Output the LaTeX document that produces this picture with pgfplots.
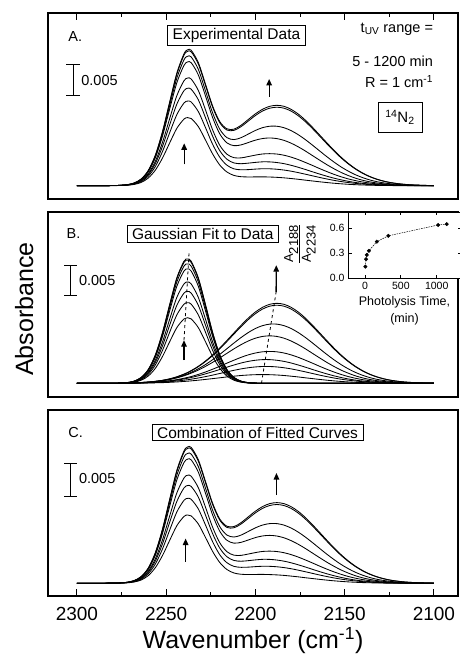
\documentclass[border=0pt]{standalone}
\usepackage{fontspec}
\setmainfont{Liberation Sans}
\usepackage{pgfplots}
\usepackage{pgfplotstable}
\pgfplotsset{compat=1.18}
\usetikzlibrary{arrows.meta}

% Gaussian band near 2238 cm^-1 (panel B), units of 0.001 absorbance
\pgfplotstableread{
x a1 a2 a3 a4 a5 a6 a7 a8
2300 0 0 0 0 0 0 0 0
2280 0.01 0.01 0.01 0.01 0.01 0.01 0.01 0.01
2276 0.02 0.02 0.02 0.02 0.03 0.03 0.03 0.03
2272 0.06 0.07 0.08 0.09 0.10 0.10 0.10 0.11
2268 0.18 0.22 0.25 0.27 0.31 0.32 0.33 0.34
2264 0.49 0.60 0.69 0.76 0.85 0.89 0.92 0.93
2260 1.17 1.44 1.64 1.80 2.04 2.13 2.19 2.22
2256 2.42 2.97 3.38 3.73 4.21 4.39 4.53 4.58
2252 4.32 5.30 6.04 6.66 7.52 7.85 8.10 8.18
2248 6.67 8.20 9.34 10.29 11.63 12.14 12.52 12.64
2244 8.92 10.96 12.49 13.76 15.54 16.22 16.73 16.90
2240 10.31 12.67 14.44 15.91 17.97 18.76 19.35 19.54
2238 10.50 12.90 14.70 16.20 18.30 19.10 19.70 19.90
2236 10.31 12.67 14.44 15.91 17.97 18.76 19.35 19.54
2232 8.92 10.96 12.49 13.76 15.54 16.22 16.73 16.90
2228 6.67 8.20 9.34 10.29 11.63 12.14 12.52 12.64
2224 4.32 5.30 6.04 6.66 7.52 7.85 8.10 8.18
2220 2.42 2.97 3.38 3.73 4.21 4.39 4.53 4.58
2216 1.17 1.44 1.64 1.80 2.04 2.13 2.19 2.22
2212 0.49 0.60 0.69 0.76 0.85 0.89 0.92 0.93
2208 0.18 0.22 0.25 0.27 0.31 0.32 0.33 0.34
2204 0.06 0.07 0.08 0.09 0.10 0.10 0.10 0.11
2200 0.02 0.02 0.02 0.02 0.03 0.03 0.03 0.03
2196 0.01 0.01 0.01 0.01 0.01 0.01 0.01 0.01
2180 0 0 0 0 0 0 0 0
2100 0 0 0 0 0 0 0 0
}\tabGa

% Gaussian band near 2190 cm^-1 (panel B)
\pgfplotstableread{
x b1 b2 b3 b4 b5 b6 b7 b8
2300 0 0 0 0 0 0 0 0
2280 0.00 0.01 0.01 0.01 0.01 0.01 0.01 0.01
2276 0.01 0.01 0.02 0.02 0.03 0.03 0.03 0.03
2272 0.01 0.02 0.03 0.03 0.05 0.04 0.04 0.04
2268 0.02 0.03 0.05 0.05 0.07 0.07 0.08 0.08
2264 0.03 0.05 0.08 0.08 0.12 0.12 0.12 0.13
2260 0.05 0.08 0.12 0.13 0.19 0.19 0.20 0.20
2256 0.08 0.12 0.18 0.19 0.29 0.29 0.31 0.32
2252 0.11 0.18 0.26 0.29 0.43 0.44 0.47 0.48
2248 0.16 0.26 0.37 0.42 0.62 0.64 0.70 0.72
2244 0.22 0.37 0.51 0.59 0.87 0.92 1.02 1.04
2240 0.30 0.50 0.70 0.81 1.20 1.29 1.44 1.47
2238 0.34 0.57 0.81 0.94 1.40 1.50 1.69 1.73
2236 0.39 0.66 0.93 1.08 1.62 1.75 1.98 2.03
2232 0.50 0.85 1.20 1.42 2.11 2.32 2.66 2.72
2228 0.62 1.07 1.51 1.81 2.70 2.99 3.48 3.56
2224 0.75 1.31 1.85 2.25 3.35 3.77 4.43 4.54
2220 0.88 1.57 2.21 2.72 4.06 4.62 5.51 5.64
2216 1.02 1.83 2.58 3.22 4.79 5.53 6.68 6.84
2212 1.14 2.08 2.93 3.70 5.52 6.45 7.89 8.07
2208 1.25 2.31 3.25 4.16 6.19 7.33 9.08 9.29
2204 1.33 2.49 3.51 4.55 6.77 8.12 10.19 10.43
2200 1.38 2.62 3.69 4.85 7.22 8.77 11.14 11.41
2196 1.40 2.69 3.79 5.04 7.50 9.23 11.88 12.16
2192 1.38 2.69 3.79 5.10 7.60 9.47 12.34 12.64
2188 1.33 2.62 3.69 5.04 7.50 9.47 12.50 12.80
2184 1.25 2.49 3.51 4.85 7.22 9.23 12.34 12.64
2180 1.14 2.31 3.25 4.55 6.77 8.77 11.88 12.16
2176 1.02 2.08 2.93 4.16 6.19 8.12 11.14 11.41
2172 0.88 1.83 2.58 3.70 5.52 7.33 10.19 10.43
2168 0.75 1.57 2.21 3.22 4.79 6.45 9.08 9.29
2164 0.62 1.31 1.85 2.72 4.06 5.53 7.89 8.07
2160 0.50 1.07 1.51 2.25 3.35 4.62 6.68 6.84
2156 0.39 0.85 1.20 1.81 2.70 3.77 5.51 5.64
2152 0.30 0.66 0.93 1.42 2.11 2.99 4.43 4.54
2148 0.22 0.50 0.70 1.08 1.62 2.32 3.48 3.56
2144 0.16 0.37 0.51 0.81 1.20 1.75 2.66 2.72
2140 0.11 0.26 0.37 0.59 0.87 1.29 1.98 2.03
2136 0.08 0.18 0.26 0.42 0.62 0.92 1.44 1.47
2132 0.05 0.12 0.18 0.29 0.43 0.64 1.02 1.04
2128 0.03 0.08 0.12 0.19 0.29 0.44 0.70 0.72
2124 0.02 0.05 0.08 0.13 0.19 0.29 0.47 0.48
2120 0.01 0.03 0.05 0.08 0.12 0.19 0.31 0.32
2116 0.01 0.02 0.03 0.05 0.07 0.12 0.20 0.20
2112 0.00 0.01 0.02 0.03 0.05 0.07 0.12 0.13
2108 0.00 0.01 0.01 0.02 0.03 0.04 0.08 0.08
2104 0.00 0.00 0.01 0.01 0.02 0.03 0.04 0.04
2100 0.00 0.00 0.00 0.01 0.01 0.01 0.03 0.03
}\tabGb

% Spectra (panels A and C)
\pgfplotstableread{
x s1 s2 s3 s4 s5 s6 s7 s8
2300 0 0 0 0 0 0 0 0
2280 0.01 0.02 0.02 0.02 0.02 0.02 0.02 0.02
2276 0.03 0.03 0.04 0.04 0.06 0.06 0.06 0.06
2272 0.07 0.09 0.11 0.12 0.15 0.14 0.14 0.15
2268 0.20 0.25 0.30 0.32 0.38 0.39 0.41 0.42
2264 0.52 0.65 0.77 0.84 0.97 1.01 1.04 1.06
2260 1.22 1.52 1.76 1.93 2.23 2.32 2.39 2.42
2256 2.50 3.09 3.56 3.92 4.50 4.68 4.84 4.90
2252 4.43 5.48 6.30 6.95 7.95 8.29 8.57 8.66
2248 6.83 8.46 9.71 10.71 12.25 12.78 13.22 13.36
2244 9.14 11.33 13.00 14.35 16.41 17.14 17.75 17.94
2240 10.61 13.17 15.14 16.72 19.17 20.05 20.79 21.01
2238 10.84 13.47 15.51 17.14 19.70 20.60 21.39 21.63
2236 10.70 13.33 15.37 16.99 19.59 20.51 21.33 21.57
2232 9.42 11.81 13.69 15.18 17.65 18.54 19.39 19.62
2228 7.29 9.27 10.85 12.10 14.33 15.13 16.00 16.20
2224 5.07 6.61 7.89 8.91 10.87 11.62 12.53 12.72
2220 3.30 4.54 5.59 6.45 8.27 9.01 10.04 10.22
2216 2.19 3.27 4.22 5.02 6.83 7.66 8.87 9.06
2212 1.63 2.68 3.62 4.46 6.37 7.34 8.81 9.00
2208 1.43 2.53 3.50 4.43 6.50 7.65 9.41 9.63
2204 1.39 2.56 3.59 4.64 6.87 8.22 10.29 10.54
2200 1.40 2.64 3.71 4.87 7.25 8.80 11.17 11.44
2196 1.41 2.70 3.80 5.05 7.51 9.24 11.89 12.17
2192 1.38 2.69 3.79 5.10 7.60 9.47 12.34 12.64
2188 1.33 2.62 3.69 5.04 7.50 9.47 12.50 12.80
2184 1.25 2.49 3.51 4.85 7.22 9.23 12.34 12.64
2180 1.14 2.31 3.25 4.55 6.77 8.77 11.88 12.16
2176 1.02 2.08 2.93 4.16 6.19 8.12 11.14 11.41
2172 0.88 1.83 2.58 3.70 5.52 7.33 10.19 10.43
2168 0.75 1.57 2.21 3.22 4.79 6.45 9.08 9.29
2164 0.62 1.31 1.85 2.72 4.06 5.53 7.89 8.07
2160 0.50 1.07 1.51 2.25 3.35 4.62 6.68 6.84
2156 0.39 0.85 1.20 1.81 2.70 3.77 5.51 5.64
2152 0.30 0.66 0.93 1.42 2.11 2.99 4.43 4.54
2148 0.22 0.50 0.70 1.08 1.62 2.32 3.48 3.56
2144 0.16 0.37 0.51 0.81 1.20 1.75 2.66 2.72
2140 0.11 0.26 0.37 0.59 0.87 1.29 1.98 2.03
2136 0.08 0.18 0.26 0.42 0.62 0.92 1.44 1.47
2132 0.05 0.12 0.18 0.29 0.43 0.64 1.02 1.04
2128 0.03 0.08 0.12 0.19 0.29 0.44 0.70 0.72
2124 0.02 0.05 0.08 0.13 0.19 0.29 0.47 0.48
2120 0.01 0.03 0.05 0.08 0.12 0.19 0.31 0.32
2116 0.01 0.02 0.03 0.05 0.07 0.12 0.20 0.20
2112 0.00 0.01 0.02 0.03 0.05 0.07 0.12 0.13
2108 0.00 0.01 0.01 0.02 0.03 0.04 0.08 0.08
2104 0.00 0.00 0.01 0.01 0.02 0.03 0.04 0.04
2100 0.00 0.00 0.00 0.01 0.01 0.01 0.03 0.03
}\tabS

\pgfplotsset{
  /pgf/number format/1000 sep={},
  /pgf/number format/assume math mode=true,
  panel/.style={
    scale only axis, width=410pt,
    xmin=2086.5, xmax=2316.2, x dir=reverse,
    ytick=\empty,
    xtick={2100,2150,2200,2250,2300},
    minor xtick={2125,2175,2225,2275},
    tick align=inside,
    major tick length=7pt, minor tick length=4pt,
    axis line style={line width=1.2pt},
    tick style={black, line width=0.9pt},
  },
  curve/.style={black, line width=0.85pt, smooth, no marks},
}
\tikzset{
  tbox/.style={draw, line width=0.8pt, fill=white, inner xsep=5pt, inner ysep=2.5pt,
    font=\fontsize{15.5}{18}\selectfont},
  lbl/.style={font=\fontsize{14.5}{17}\selectfont},
  arr/.style={line width=1.3pt, -{Triangle[length=6.5pt,width=5.5pt]}},
  sbar/.style={line width=0.9pt},
}

\begin{document}
\begin{tikzpicture}
\useasboundingbox (0pt,0pt) rectangle (459pt,654pt);

% ---------- Panel A ----------
\begin{axis}[panel, at={(48pt,641pt)}, anchor=north west, height=186pt,
  ymin=-2.12, ymax=27.5, xtick pos=right, xticklabels={}]
\pgfplotsinvokeforeach{1,...,8}{\addplot[curve] table[x=x,y=s#1]{\tabS};}
\node[lbl, anchor=west] at (axis cs:2306.7,23.7) {A.};
\node[tbox] at (axis cs:2210.6,23.9) {Experimental Data};
\draw[sbar] (axis cs:2305.9,14.3) -- (axis cs:2298.5,14.3)
  (axis cs:2302.2,14.3) -- (axis cs:2302.2,19.3)
  (axis cs:2305.9,19.3) -- (axis cs:2298.5,19.3);
\node[lbl, anchor=west, inner sep=0pt] at (axis cs:2297.6,16.8) {0.005};
\draw[arr] (axis cs:2239.9,3.4) -- (axis cs:2239.9,6.75);
\draw[arr] (axis cs:2192.3,14.2) -- (axis cs:2192.3,17.0);
\node[lbl, anchor=base east, inner sep=0pt] at (axis cs:2100.4,24.4) {t\textsubscript{UV} range =};
\node[lbl, anchor=base east, inner sep=0pt] at (axis cs:2100.4,18.9) {5 - 1200 min};
\node[lbl, anchor=base east, inner sep=0pt] at (axis cs:2100.4,15.6) {R = 1 cm\textsuperscript{-1}};
\node[draw, line width=0.8pt, minimum width=44pt, minimum height=30pt, inner sep=1pt,
  font=\fontsize{15}{18}\selectfont] at (axis cs:2119,10.9) {\textsuperscript{14}N\textsubscript{2}};
\end{axis}

% ---------- Panel B ----------
\begin{axis}[panel, at={(48pt,442pt)}, anchor=north west, height=185pt,
  ymin=-2.19, ymax=27.41, xtick=\empty, minor xtick={}]
\pgfplotsinvokeforeach{1,...,8}{\addplot[curve] table[x=x,y=a#1]{\tabGa};}
\pgfplotsinvokeforeach{1,...,8}{\addplot[curve] table[x=x,y=b#1]{\tabGb};}
\node[lbl, anchor=west] at (axis cs:2307.7,24.0) {B.};
\node[tbox] at (axis cs:2229.5,23.9) {Gaussian Fit to Data};
\draw[sbar] (axis cs:2307.1,14.0) -- (axis cs:2299.7,14.0)
  (axis cs:2303.4,14.0) -- (axis cs:2303.4,18.9)
  (axis cs:2307.1,18.9) -- (axis cs:2299.7,18.9);
\node[lbl, anchor=west, inner sep=0pt] at (axis cs:2298.9,16.5) {0.005};
\draw[dashed, line width=0.8pt] (axis cs:2240,6.9) -- (axis cs:2237.2,20.8);
\draw[arr] (axis cs:2240,3.7) -- (axis cs:2240,6.9);
\draw[dashed, line width=0.8pt] (axis cs:2196.6,0.0) -- (axis cs:2188.4,14.6);
\draw[arr] (axis cs:2188.4,14.6) -- (axis cs:2188.3,18.9);
\end{axis}

% ---------- Inset ----------
\begin{axis}[at={(348pt,442pt)}, anchor=north west, scale only axis,
  width=113pt, height=66.3pt,
  xmin=-237, xmax=1339, ymin=0, ymax=0.796,
  xtick={0,500,1000}, ytick={0,0.3,0.6},
  tick align=inside, tick pos=both, major tick length=3.5pt,
  tick style={black, line width=0.7pt},
  axis line style={line width=0.9pt},
  axis background/.style={fill=white},
  ticklabel style={font=\fontsize{10.5}{12}\selectfont},
  yticklabel style={/pgf/number format/.cd, fixed, fixed zerofill, precision=1},
  xlabel={Photolysis Time,\\(min)},
  xlabel style={align=center, font=\fontsize{12.5}{16.5}\selectfont,
    at={(axis description cs:0.5,0)}, anchor=north, yshift=-15pt},
  ylabel={$\displaystyle\frac{\textrm{A}_{\textrm{2188}}}{\textrm{A}_{\textrm{2234}}}$},
  ylabel style={font=\fontsize{13}{15}\selectfont,
    at={(axis description cs:-0.425,0.52)}, anchor=center},
]
\addplot[black, line width=0.5pt, dash pattern=on 1.5pt off 1pt,
  mark=*, mark size=1.7pt, mark options={solid}]
  coordinates {(5,0.14) (15,0.23) (25,0.28) (55,0.33) (165,0.44) (325,0.51) (1020,0.64) (1140,0.65)};
\end{axis}

% ---------- Panel C ----------
\begin{axis}[panel, at={(48pt,244pt)}, anchor=north west, height=186pt,
  ymin=-2.02, ymax=27.5, xtick pos=left,
  xticklabel style={font=\fontsize{19}{22}\selectfont, yshift=-7.7pt}]
\pgfplotsinvokeforeach{1,...,8}{\addplot[curve] table[x=x,y=s#1]{\tabS};}
\node[lbl, anchor=west] at (axis cs:2306.7,23.9) {C.};
\node[tbox] at (axis cs:2198.8,23.9) {Combination of Fitted Curves};
\draw[sbar] (axis cs:2307.1,13.8) -- (axis cs:2299.7,13.8)
  (axis cs:2303.4,13.8) -- (axis cs:2303.4,19.0)
  (axis cs:2307.1,19.0) -- (axis cs:2299.7,19.0);
\node[lbl, anchor=west, inner sep=0pt] at (axis cs:2298.9,16.7) {0.005};
\draw[arr] (axis cs:2239.1,3.4) -- (axis cs:2239.1,7.1);
\draw[arr] (axis cs:2188.2,14.0) -- (axis cs:2188.2,17.5);
\end{axis}

% ---------- shared labels ----------
\node[rotate=90, anchor=base, font=\fontsize{25}{30}\selectfont] at (33pt,345pt) {Absorbance};
\node[anchor=base, font=\fontsize{25}{30}\selectfont] at (253pt,5.7pt) {Wavenumber (cm\textsuperscript{-1})};
\end{tikzpicture}
\end{document}
